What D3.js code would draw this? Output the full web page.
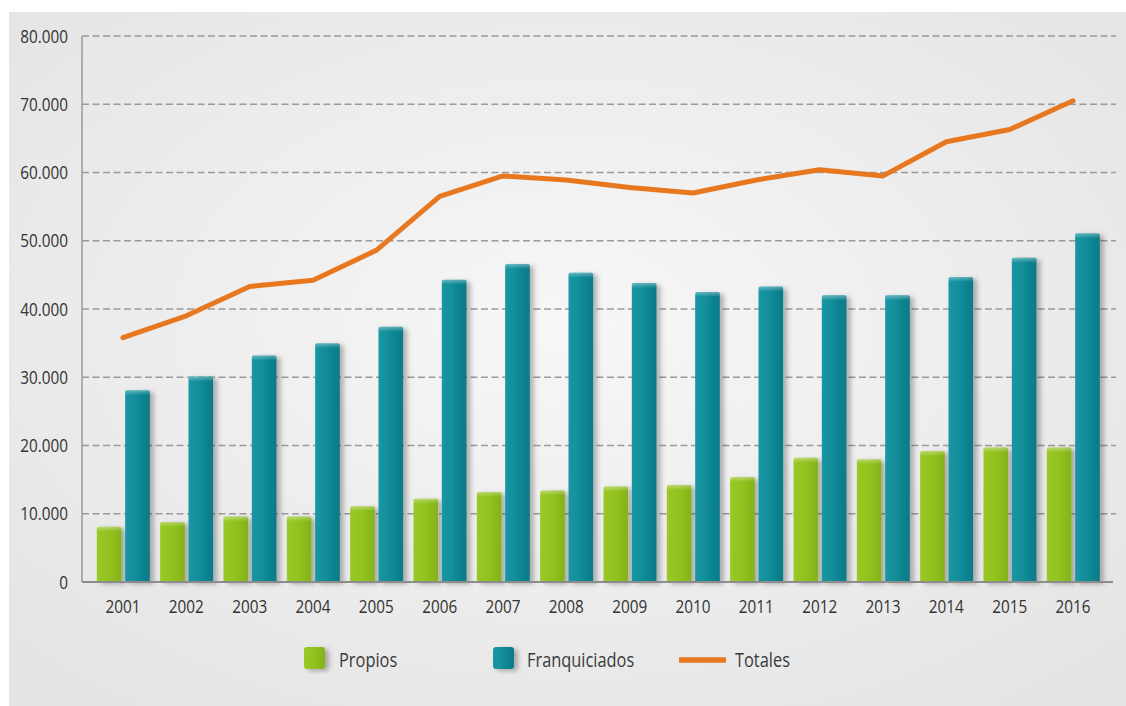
<!DOCTYPE html>
<html>
<head>
<meta charset="utf-8">
<script src="https://cdn.jsdelivr.net/npm/d3@7"></script>
<style>
html,body{margin:0;padding:0;background:#fff;}
svg{display:block;}
</style>
</head>
<body>
<svg id="chart" width="1126" height="706"></svg>
<script>
// ---- data ----
const years = ["2001","2002","2003","2004","2005","2006","2007","2008","2009","2010","2011","2012","2013","2014","2015","2016"];
const propios = [8100, 8800, 9600, 9600, 11100, 12200, 13200, 13400, 14000, 14200, 15400, 18200, 18000, 19200, 19700, 19700];
const franquiciados = [28100, 30100, 33200, 35000, 37400, 44300, 46600, 45300, 43800, 42500, 43300, 42000, 42000, 44700, 47500, 51100];
const totales = [35800, 39000, 43300, 44200, 48600, 56500, 59500, 58900, 57800, 57000, 58900, 60400, 59500, 64500, 66300, 70500];
const yTicks = [0, 10000, 20000, 30000, 40000, 50000, 60000, 70000, 80000];
const seriesNames = ["Propios", "Franquiciados", "Totales"];

const svg = d3.select("#chart");
const defs = svg.append("defs");

// background gradient
const bg = defs.append("radialGradient").attr("id","bgGrad").attr("cx","50%").attr("cy","45%").attr("r","70%");
bg.append("stop").attr("offset","0%").attr("stop-color","#f7f7f7");
bg.append("stop").attr("offset","100%").attr("stop-color","#e4e4e4");

const gGreen = defs.append("linearGradient").attr("id","gGreen").attr("x1","0").attr("x2","1").attr("y1","0").attr("y2","0");
gGreen.append("stop").attr("offset","0%").attr("stop-color","#99c826");
gGreen.append("stop").attr("offset","50%").attr("stop-color","#92c21f");
gGreen.append("stop").attr("offset","100%").attr("stop-color","#84b11a");
const gTeal = defs.append("linearGradient").attr("id","gTeal").attr("x1","0").attr("x2","1").attr("y1","0").attr("y2","0");
gTeal.append("stop").attr("offset","0%").attr("stop-color","#1a97a4");
gTeal.append("stop").attr("offset","50%").attr("stop-color","#118b98");
gTeal.append("stop").attr("offset","100%").attr("stop-color","#0a7986");
const gTop = defs.append("linearGradient").attr("id","gTop").attr("x1","0").attr("x2","0").attr("y1","0").attr("y2","1");
gTop.append("stop").attr("offset","0%").attr("stop-color","#ffffff").attr("stop-opacity",0.35);
gTop.append("stop").attr("offset","100%").attr("stop-color","#ffffff").attr("stop-opacity",0);

const sh = defs.append("filter").attr("id","shadow").attr("x","-30%").attr("y","-10%").attr("width","170%").attr("height","130%");
sh.append("feDropShadow").attr("dx",4).attr("dy",2).attr("stdDeviation",2.5).attr("flood-color","#000").attr("flood-opacity",0.28);

svg.append("rect").attr("x",9).attr("y",12).attr("width",1117).attr("height",694).attr("fill","url(#bgGrad)");

// ---- scales ----
const x = d3.scaleBand().domain(years).range([91.33, 1104.67]).paddingInner(0).paddingOuter(0);
const xSub = d3.scaleBand().domain(["Propios","Franquiciados"]).range([5.5, 58.5]).paddingInner(0.13);
const y = d3.scaleLinear().domain([0, 80000]).range([582, 36]);
const axisLeft = 82, axisRight = 1113;

// grid
svg.append("g").selectAll("line").data(yTicks.filter(d=>d>0)).join("line")
  .attr("x1", axisLeft).attr("x2", 1116)
  .attr("y1", d=>y(d)).attr("y2", d=>y(d))
  .attr("stroke","#9a9a9a").attr("stroke-width",1.4).attr("stroke-dasharray","7,3.5");

// y labels
const fmt = d => d===0 ? "0" : d3.format(",")(d).replace(/,/g,".");
svg.append("g").selectAll("text").data(yTicks).join("text")
  .attr("transform", d=>`translate(68,${y(d)+6.5}) scale(0.85,1)`)
  .attr("text-anchor","end")
  .attr("font-family","'Open Sans', sans-serif").attr("font-size",18)
  .attr("fill","#333").text(fmt);

// bars
const groups = svg.append("g").selectAll("g").data(years).join("g")
  .attr("transform", d=>`translate(${x(d)},0)`);
groups.append("rect")
  .attr("x", xSub("Propios")).attr("width", xSub.bandwidth())
  .attr("y", (d,i)=>y(propios[i])).attr("height",(d,i)=>y(0)-y(propios[i]))
  .attr("fill","url(#gGreen)").attr("rx",1.5).attr("filter","url(#shadow)");
groups.append("rect")
  .attr("x", xSub("Franquiciados")).attr("width", xSub.bandwidth())
  .attr("y", (d,i)=>y(franquiciados[i])).attr("height",(d,i)=>y(0)-y(franquiciados[i]))
  .attr("fill","url(#gTeal)").attr("rx",1.5).attr("filter","url(#shadow)");
groups.append("rect")
  .attr("x", xSub("Propios")).attr("width", xSub.bandwidth())
  .attr("y", (d,i)=>y(propios[i])).attr("height",5)
  .attr("fill","url(#gTop)");
groups.append("rect")
  .attr("x", xSub("Franquiciados")).attr("width", xSub.bandwidth())
  .attr("y", (d,i)=>y(franquiciados[i])).attr("height",5)
  .attr("fill","url(#gTop)");

// axes lines
svg.append("line").attr("x1",axisLeft).attr("x2",axisLeft).attr("y1",y(80000)).attr("y2",y(0))
  .attr("stroke","#9a9a9a").attr("stroke-width",1.5);
svg.append("line").attr("x1",axisLeft).attr("x2",axisRight).attr("y1",y(0)).attr("y2",y(0))
  .attr("stroke","#8c8c8c").attr("stroke-width",2);

// x labels
svg.append("g").selectAll("text").data(years).join("text")
  .attr("transform", d=>`translate(${x(d)+x.bandwidth()/2},613) scale(0.85,1)`)
  .attr("text-anchor","middle")
  .attr("font-family","'Open Sans', sans-serif").attr("font-size",18)
  .attr("fill","#333").text(d=>d);

// line
const line = d3.line().x((d,i)=>x(years[i])+x.bandwidth()/2).y(d=>y(d));
svg.append("path").datum(totales).attr("d",line)
  .attr("fill","none").attr("stroke","#e8781f").attr("stroke-width",5)
  .attr("stroke-linejoin","round").attr("stroke-linecap","round");

// legend
const lg = svg.append("g");
const legendX = [304, 493, 679];
lg.append("rect").attr("x",legendX[0]).attr("y",647).attr("width",21).attr("height",22).attr("rx",3)
  .attr("fill","url(#gGreen)").attr("filter","url(#shadow)");
lg.append("rect").attr("x",legendX[1]).attr("y",647).attr("width",21).attr("height",22).attr("rx",3)
  .attr("fill","url(#gTeal)").attr("filter","url(#shadow)");
lg.append("line").attr("x1",legendX[2]).attr("x2",legendX[2]+47).attr("y1",660).attr("y2",660)
  .attr("stroke","#e8781f").attr("stroke-width",5.5);
const legTextX = [339, 527, 735];
lg.selectAll("text").data(seriesNames).join("text")
  .attr("transform",(d,i)=>`translate(${legTextX[i]},667) scale(0.82,1)`)
  .attr("font-family","'Open Sans', sans-serif").attr("font-size",20)
  .attr("fill","#3a3a3a").text(d=>d);
</script>
</body>
</html>
